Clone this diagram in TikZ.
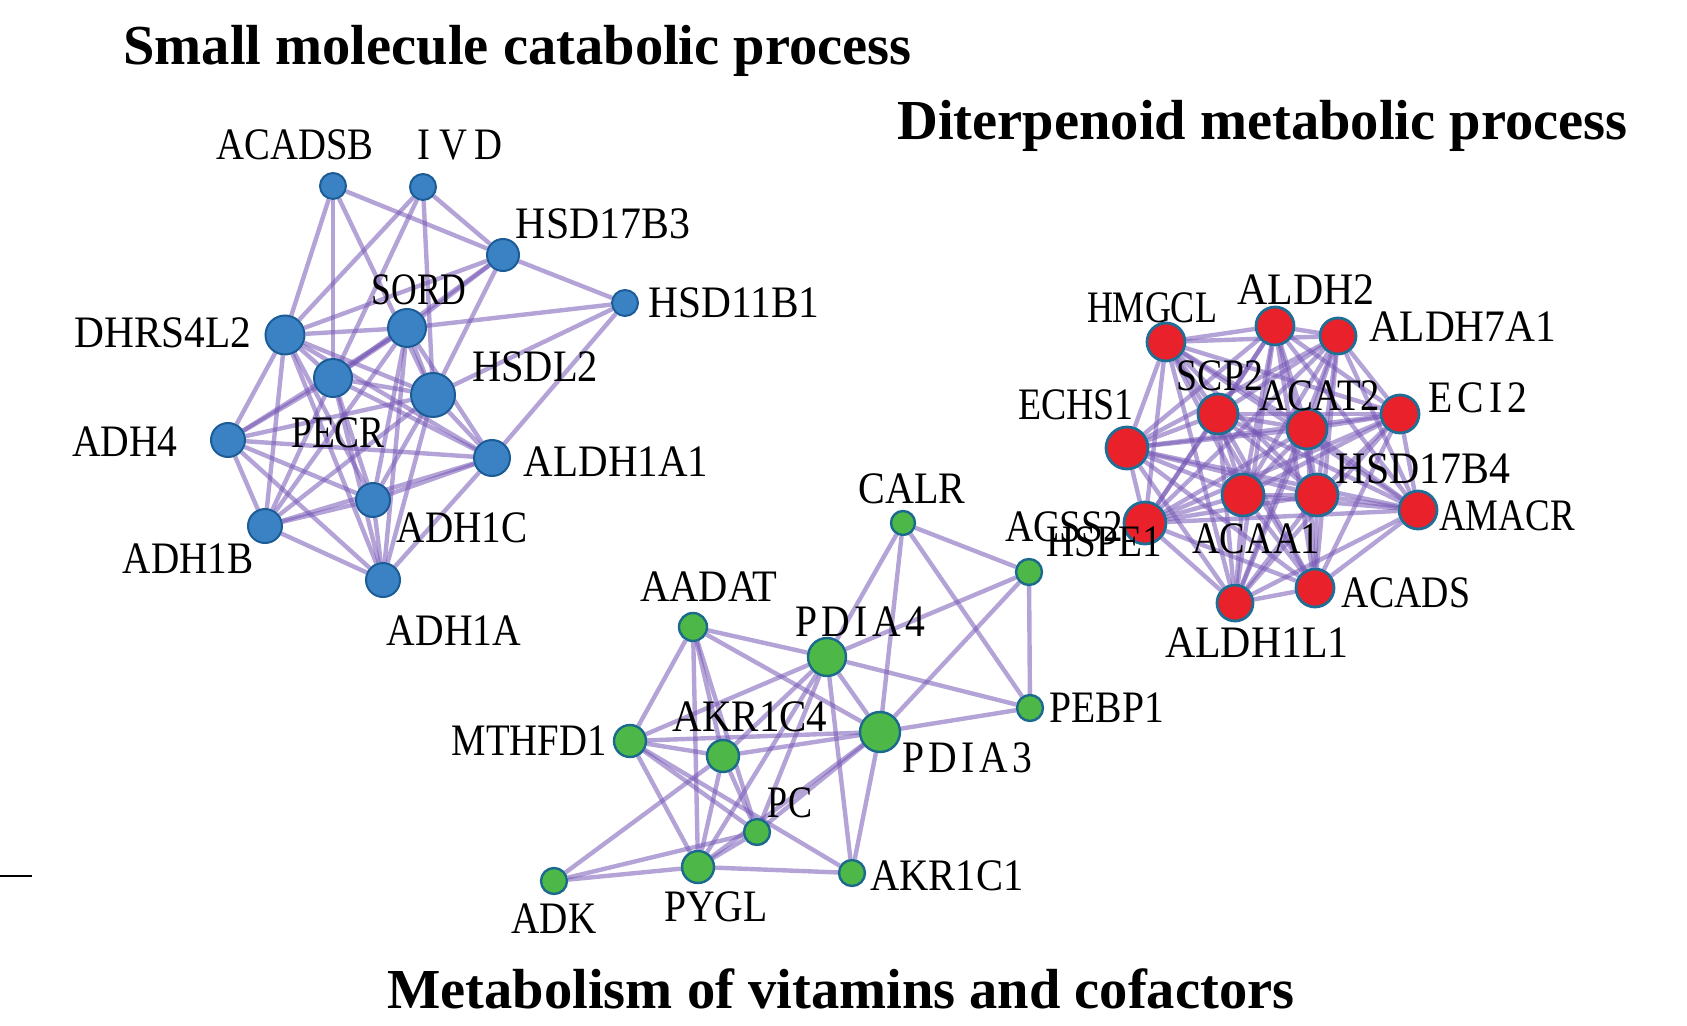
\documentclass[tikz,border=0pt]{standalone}
\usepackage{fontspec}
\setmainfont{Liberation Serif}
\usetikzlibrary{backgrounds}
\definecolor{edgec}{RGB}{118,88,182}
\definecolor{bluef}{RGB}{58,130,196}
\definecolor{blueb}{RGB}{28,92,150}
\definecolor{greenf}{RGB}{77,184,72}
\definecolor{greenb}{RGB}{27,105,140}
\definecolor{redf}{RGB}{232,33,43}
\definecolor{redb}{RGB}{31,110,150}
\newcommand{\sx}[2]{\scalebox{#1}[1]{#2}}
\begin{document}
\begin{tikzpicture}[x=0.5pt,y=-0.5pt,
  gnode/.style={circle,inner sep=0pt,line width=1.2pt},
  bn/.style={gnode,fill=bluef,draw=blueb,line width=1pt},
  gn/.style={gnode,fill=greenf,draw=greenb},
  rn/.style={gnode,fill=redf,draw=redb,line width=1.4pt},
  lab/.style={inner sep=0pt,font=\fontsize{22.5}{24}\selectfont},
  ttl/.style={inner sep=0pt,anchor=base west,font=\fontsize{28.25}{30}\selectfont\bfseries},
  edge/.style={draw=edgec,line width=2.2pt,opacity=0.55}]
\useasboundingbox (0,0) rectangle (1687,1026);

% titles
\node[ttl] (t1) at (123,65) {Small molecule catabolic process};
\node[ttl] (t2) at (897,140) {Diterpenoid metabolic process};
\node[ttl] (t3) at (387,1008) {Metabolism of vitamins and cofactors};

% short dash at left
\draw[line width=1pt] (0,876) -- (32,876);

% blue nodes
\node[bn,minimum size=13pt] (acadsb) at (333,186) {};
\node[bn,minimum size=13pt] (ivd) at (423,187) {};
\node[bn,minimum size=16pt] (hsd17b3) at (503,255) {};
\node[bn,minimum size=13pt] (hsd11b1) at (625,303) {};
\node[bn,minimum size=19pt] (sord) at (407,328) {};
\node[bn,minimum size=19.5pt] (dhrs) at (285,335) {};
\node[bn,minimum size=19pt] (pecr) at (333,378) {};
\node[bn,minimum size=22pt] (hsdl2) at (433,395) {};
\node[bn,minimum size=17pt] (adh4) at (228,440) {};
\node[bn,minimum size=18pt] (aldh1a1) at (492,458) {};
\node[bn,minimum size=17pt] (adh1c) at (373,500) {};
\node[bn,minimum size=17pt] (adh1b) at (265,526) {};
\node[bn,minimum size=17pt] (adh1a) at (383,580) {};

% green nodes
\node[gn,minimum size=14pt] (aadat) at (693,627) {};
\node[gn,minimum size=19pt] (pdia4) at (827,657) {};
\node[gn,minimum size=16pt] (mthfd1) at (630,741) {};
\node[gn,minimum size=16pt] (akr1c4) at (723,756) {};
\node[gn,minimum size=20pt] (pdia3) at (880,732) {};
\node[gn,minimum size=13pt] (pc) at (757,832) {};
\node[gn,minimum size=16pt] (pygl) at (698,867) {};
\node[gn,minimum size=13pt] (adk) at (554,881) {};
\node[gn,minimum size=13pt] (akr1c1) at (852,873) {};
\node[gn,minimum size=12pt] (calr) at (903,523) {};
\node[gn,minimum size=13pt] (acss2) at (1029,572) {};
\node[gn,minimum size=13pt] (pebp1) at (1030,708) {};

% red nodes
\node[rn,minimum size=19pt] (hmgcl) at (1166,342) {};
\node[rn,minimum size=19pt] (aldh2) at (1275,326) {};
\node[rn,minimum size=18pt] (aldh7a1) at (1338,336) {};
\node[rn,minimum size=20pt] (scp2) at (1218,414) {};
\node[rn,minimum size=20pt] (acat2) at (1307,429) {};
\node[rn,minimum size=19pt] (eci2) at (1400,414) {};
\node[rn,minimum size=21pt] (echs1) at (1127,448) {};
\node[rn,minimum size=21pt] (acaa1) at (1243,495) {};
\node[rn,minimum size=21pt] (hsd17b4) at (1317,495) {};
\node[rn,minimum size=19pt] (amacr) at (1418,510) {};
\node[rn,minimum size=21pt] (hspe1) at (1145,523) {};
\node[rn,minimum size=19pt] (acads) at (1315,588) {};
\node[rn,minimum size=18pt] (aldh1l1) at (1235,603) {};

% edges
\begin{scope}[on background layer]
% blue cluster
\foreach \a/\b in {acadsb/dhrs,acadsb/pecr,acadsb/hsdl2,acadsb/hsd17b3,
  ivd/dhrs,ivd/pecr,ivd/hsdl2,ivd/hsd17b3,
  hsd17b3/dhrs,hsd17b3/sord,hsd17b3/pecr,hsd17b3/hsdl2,hsd17b3/hsd11b1,
  hsd11b1/sord,hsd11b1/hsdl2,hsd11b1/aldh1a1}
  \draw[edge] (\a) -- (\b);
\foreach \a [count=\i] in {sord,dhrs,pecr,hsdl2,adh4,aldh1a1,adh1c,adh1b,adh1a}
  \foreach \b [count=\j] in {sord,dhrs,pecr,hsdl2,adh4,aldh1a1,adh1c,adh1b,adh1a}
  {\ifnum\j>\i \draw[edge] (\a) -- (\b);\fi}
% green cluster
\foreach \a/\b in {aadat/pdia4,aadat/pdia3,aadat/mthfd1,aadat/akr1c4,aadat/pygl,aadat/pc,
  pdia4/mthfd1,pdia4/akr1c4,pdia4/pdia3,pdia4/pc,pdia4/pygl,pdia4/akr1c1,pdia4/calr,pdia4/acss2,pdia4/pebp1,
  mthfd1/akr1c4,mthfd1/pdia3,mthfd1/pc,mthfd1/pygl,mthfd1/akr1c1,
  akr1c4/pdia3,akr1c4/pygl,akr1c4/pc,akr1c4/adk,
  pdia3/pc,pdia3/pygl,pdia3/akr1c1,pdia3/calr,pdia3/acss2,pdia3/pebp1,
  pc/pygl,pc/adk,pygl/adk,pygl/akr1c1,
  calr/acss2,calr/pebp1,acss2/pebp1}
  \draw[edge] (\a) -- (\b);
% red cluster
\foreach \a [count=\i] in {hmgcl,aldh2,aldh7a1,scp2,acat2,eci2,echs1,acaa1,hsd17b4,amacr,hspe1,acads,aldh1l1}
  \foreach \b [count=\j] in {hmgcl,aldh2,aldh7a1,scp2,acat2,eci2,echs1,acaa1,hsd17b4,amacr,hspe1,acads,aldh1l1}
  {\ifnum\j>\i \draw[edge] (\a) -- (\b);\fi}
\end{scope}

% labels
\node[lab] (lacadsb) at (295,145) {\sx{.86}{ACADSB}};
\node[lab] (livd) at (460,145) {\sx{.86}{I\kern5pt V\kern4pt D}};
\node[lab] (lhsd17b3) at (603,224) {\sx{.93}{HSD17B3}};
\node[lab] (lhsd11b1) at (734,303) {\sx{.92}{HSD11B1}};
\node[lab] (lsord) at (419,290) {\sx{.79}{SORD}};
\node[lab] (ldhrs) at (163,333) {\sx{.92}{DHRS4L2}};
\node[lab] (lhsdl2) at (535,367) {\sx{.90}{HSDL2}};
\node[lab] (ladh4) at (125,442) {\sx{.88}{ADH4}};
\node[lab] (lpecr) at (338,433) {\sx{.83}{PECR}};
\node[lab] (laldh1a1) at (616,462) {\sx{.91}{ALDH1A1}};
\node[lab] (ladh1c) at (462,528) {\sx{.87}{ADH1C}};
\node[lab] (ladh1b) at (188,559) {\sx{.87}{ADH1B}};
\node[lab] (ladh1a) at (454,631) {\sx{.88}{ADH1A}};

\node[lab] (laadat) at (709,587) {\sx{.90}{AADAT}};
\node[lab] (lpdia4) at (860,622) {\sx{.88}{P\kern2.5pt D\kern2.5pt I\kern2.5pt A\kern2.5pt 4}};
\node[lab] (lcalr) at (912,489) {\sx{.89}{CALR}};
\node[lab] (lacss2) at (1064,527) {\sx{.87}{ACSS2}};
\node[lab] (lhspe1) at (1104,542) {\sx{.87}{HSPE1}};
\node[lab] (lmthfd1) at (529,741) {\sx{.86}{MTHFD1}};
\node[lab] (lakr1c4) at (750,717) {\sx{.91}{AKR1C4}};
\node[lab] (lpc) at (790,803) {\sx{.80}{PC}};
\node[lab] (ladk) at (554,919) {\sx{.87}{ADK}};
\node[lab] (lpygl) at (716,907) {\sx{.88}{PYGL}};
\node[lab] (lakr1c1) at (947,876) {\sx{.90}{AKR1C1}};
\node[lab] (lpebp1) at (1107,708) {\sx{.88}{PEBP1}};
\node[lab] (lpdia3) at (967,758) {\sx{.88}{P\kern2.5pt D\kern2.5pt I\kern2.5pt A\kern2.5pt 3}};

\node[lab] (lhmgcl) at (1152,308) {\sx{.80}{HMGCL}};
\node[lab] (laldh2) at (1306,290) {\sx{.93}{ALDH2}};
\node[lab] (laldh7a1) at (1463,327) {\sx{.92}{ALDH7A1}};
\node[lab] (lscp2) at (1220,376) {\sx{.84}{SCP2}};
\node[lab] (lacat2) at (1320,396) {\sx{.86}{ACAT2}};
\node[lab] (leci2) at (1478,398) {\sx{.88}{E\kern3pt C\kern3pt I\kern3pt 2}};
\node[lab] (lechs1) at (1076,405) {\sx{.84}{ECHS1}};
\node[lab] (lhsd17b4) at (1423,469) {\sx{.93}{HSD17B4}};
\node[lab] (lamacr) at (1507,516) {\sx{.82}{AMACR}};
\node[lab] (lacaa1) at (1256,539) {\sx{.85}{ACAA1}};
\node[lab] (lacads) at (1406,593) {\sx{.84}{ACADS}};
\node[lab] (laldh1l1) at (1257,643) {\sx{.93}{ALDH1L1}};
\end{tikzpicture}
\end{document}
